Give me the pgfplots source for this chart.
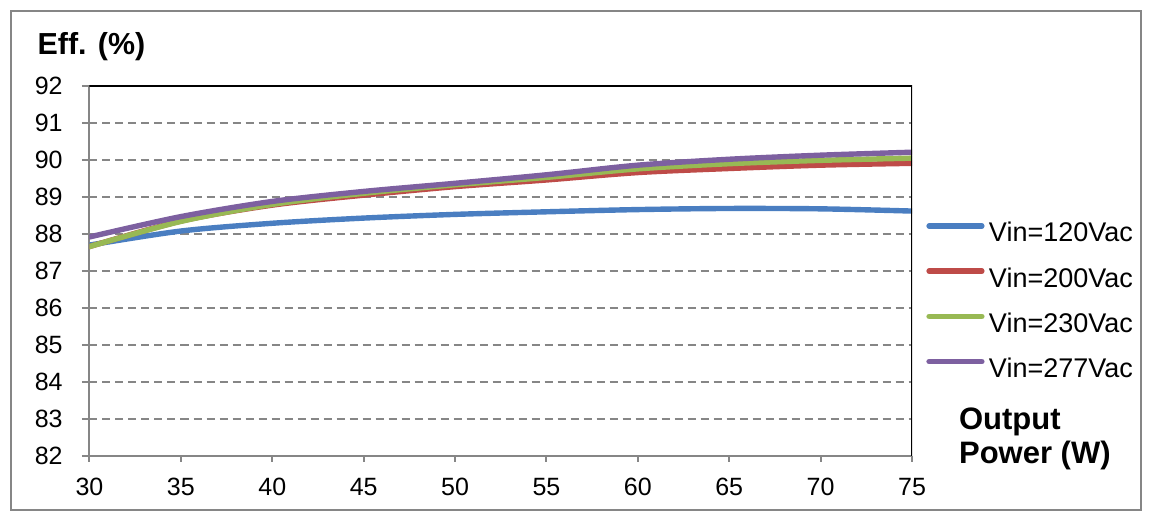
\documentclass[border=0pt]{standalone}
\usepackage{fontspec}
\setmainfont{Liberation Sans}
\usepackage{pgfplots}
\pgfplotsset{compat=1.18}
\definecolor{c120}{RGB}{74,126,193}
\definecolor{c200}{RGB}{190,75,72}
\definecolor{c230}{RGB}{152,185,84}
\definecolor{c277}{RGB}{125,96,160}
\definecolor{gridgray}{RGB}{134,134,134}
\begin{document}
\begin{tikzpicture}
\path[use as bounding box] (-44.75pt,-31.5pt) rectangle (530.25pt,228pt);
\draw[gridgray, line width=1pt] (-39.25pt,-27.25pt) rectangle (525.75pt,222.25pt);
\begin{axis}[
  at={(0,0)}, anchor=south west, scale only axis,
  width=411.25pt, height=185pt,
  xmin=30, xmax=75, ymin=82, ymax=92,
  xtick={30,35,...,75}, ytick={82,83,...,92},
  axis x line*=bottom, axis y line*=left,
  axis line style={gridgray, line width=1pt},
  tick align=outside,
  major tick length=3.85pt,
  tick style={gridgray, line width=1pt},
  xtick style={/pgfplots/major tick length=2.85pt},
  ymajorgrids,
  grid style={gridgray, line width=1pt, dash pattern=on 4pt off 2.5pt},
  tick label style={font=\fontsize{12.5}{15}\selectfont, inner sep=0pt},
  /pgf/number format/assume math mode=true,
  yticklabel shift=9.4pt,
  xticklabel shift=7.1pt,
  legend style={draw=none, fill=none, inner sep=0pt, at={(1.0170,0.6325)}, anchor=north west,
    row sep=9.3pt, column sep=2.2pt,
    nodes={inner sep=0pt, text height=9.8pt, text depth=3.5pt, font=\fontsize{13.5}{16}\selectfont}},
  legend cell align=left,
  legend image code/.code={\draw[#1, line width=2.8pt, line cap=round] (0.7pt,4.85pt) -- (27.0pt,4.85pt);},
  every axis plot/.append style={line width=2.7pt, line cap=round, smooth},
]
\addplot[c120] coordinates {(30,87.70) (35,88.08) (40,88.29) (45,88.43) (50,88.53) (55,88.60) (60,88.66) (65,88.69) (70,88.68) (75,88.62)};
\addlegendentry{Vin=120Vac}
\addplot[c200] coordinates {(30,87.66) (35,88.35) (40,88.78) (45,89.05) (50,89.28) (55,89.46) (60,89.66) (65,89.77) (70,89.86) (75,89.91)};
\addlegendentry{Vin=200Vac}
\addplot[c230] coordinates {(30,87.66) (35,88.34) (40,88.80) (45,89.10) (50,89.33) (55,89.53) (60,89.76) (65,89.90) (70,89.99) (75,90.05)};
\addlegendentry{Vin=230Vac}
\addplot[c277] coordinates {(30,87.92) (35,88.47) (40,88.88) (45,89.15) (50,89.37) (55,89.60) (60,89.86) (65,90.02) (70,90.13) (75,90.21)};
\addlegendentry{Vin=277Vac}
\draw[black, line width=1pt] (rel axis cs:0,1) -- (rel axis cs:1,1) -- (rel axis cs:1,0);
\end{axis}
\node[anchor=base west, inner sep=0pt, font=\bfseries\fontsize{15.2}{18}\selectfont] at (-26.1pt,200.5pt) {Eff. (\%)};
\node[anchor=base west, inner sep=0pt, font=\bfseries\fontsize{15.5}{18}\selectfont] at (434.6pt,13pt) {Output};
\node[anchor=base west, inner sep=0pt, font=\bfseries\fontsize{15.5}{18}\selectfont] at (434.6pt,-3.9pt) {Power (W)};
\end{tikzpicture}
\end{document}
